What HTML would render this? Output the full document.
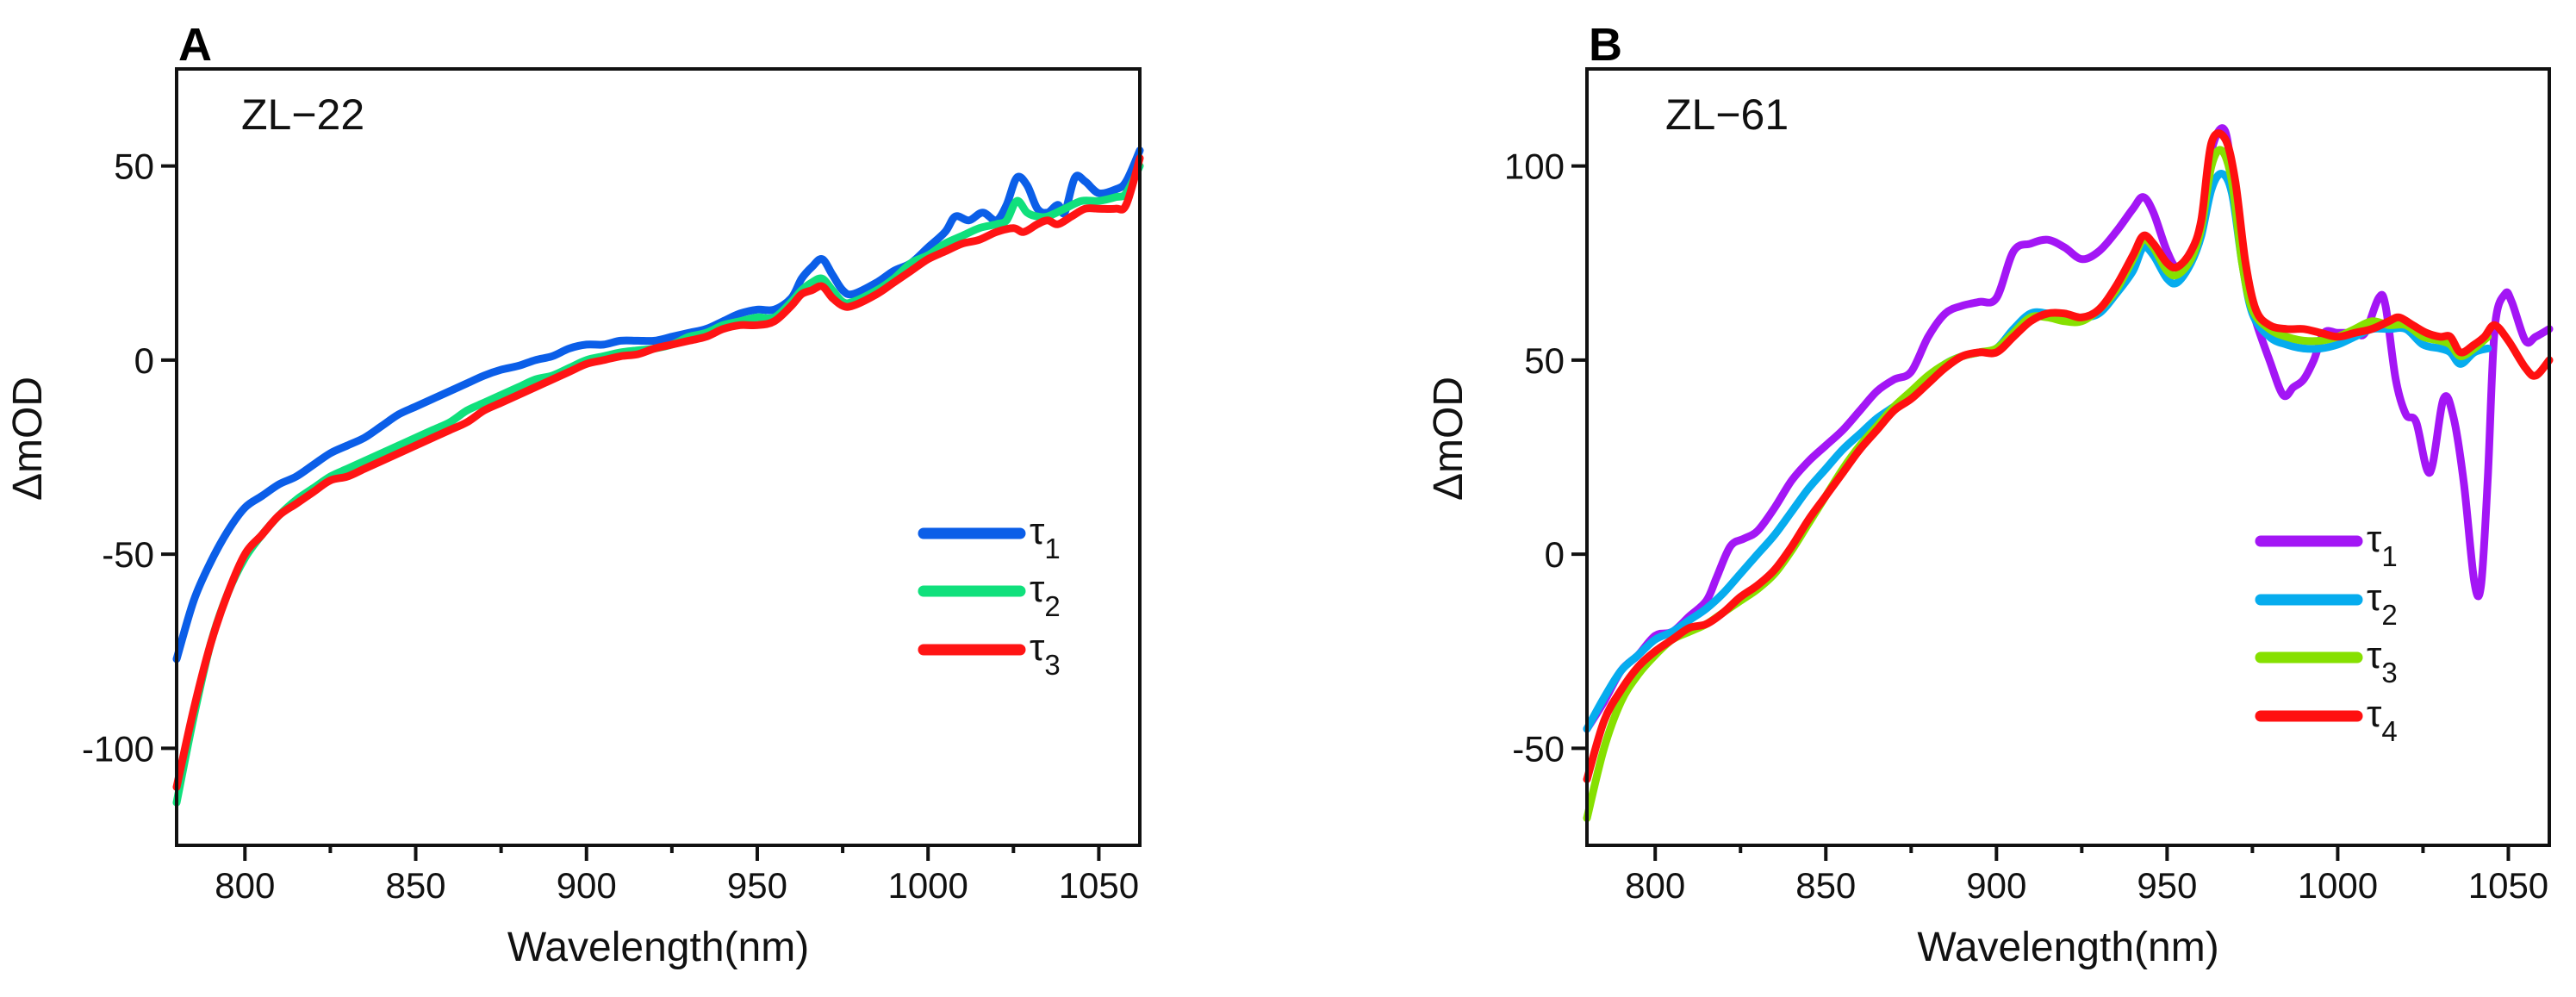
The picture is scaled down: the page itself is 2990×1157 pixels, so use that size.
<!DOCTYPE html>
<html><head><meta charset="utf-8"><style>
html,body{margin:0;padding:0;background:#fff;}
svg{display:block;font-family:"Liberation Sans",Arial,sans-serif;}
</style></head><body>
<svg id="fig" width="2990" height="1157" viewBox="0 0 2990 1157"></svg>
<script>
// ---- Panel A data ----
const wlA1=[780,785,790,795,800,805,810,815,820,825,830,835,840,845,850,855,860,865,870,875,880,885,890,895,900,905,910,915,920,925,930,935,940,945,950,955,960,963,966,969,972,975,978,985,990,995,1000,1005,1008,1012,1016,1020,1023,1026,1029,1032,1035,1038,1040,1043,1046,1050,1055,1058,1062];
const a1=[-77,-62,-52,-44,-38,-35,-32,-30,-27,-24,-22,-20,-17,-14,-12,-10,-8,-6,-4,-2.5,-1.5,0,1,3,4,4,5,5,5,6,7,8,10,12,13,13,16,21,24,26,22,18,17,20,23,25,29,33,37,36,38,36,40,47,45,39,38,40,38,47,46,43,44,46,54];
const wlA2=[780,785,790,795,800,805,810,815,820,825,830,835,840,845,850,855,860,865,870,875,880,885,890,895,900,905,910,915,920,925,930,935,940,945,950,955,960,963,966,969,972,975,978,985,990,995,1000,1005,1010,1015,1020,1023,1026,1029,1032,1035,1040,1045,1050,1055,1058,1062];
const a2=[-114,-92,-73,-60,-51,-45,-40,-36,-33,-30,-28,-26,-24,-22,-20,-18,-16,-13,-11,-9,-7,-5,-4,-2,0,1,2,2.5,3,4,6,7,9,10,11,11,15,18,20,21,18,15,15,18,21,25,27,30,32,34,35,36,41,38,37,37,39,41,41,42,43,50];
const wlA3=[780,785,790,795,800,805,810,815,820,825,830,835,840,845,850,855,860,865,870,875,880,885,890,895,900,905,910,915,920,925,930,935,940,945,950,955,960,963,966,969,972,975,978,985,990,995,1000,1005,1010,1015,1020,1025,1028,1032,1035,1038,1042,1046,1050,1055,1058,1062];
const a3=[-110,-90,-73,-60,-50,-45,-40,-37,-34,-31,-30,-28,-26,-24,-22,-20,-18,-16,-13,-11,-9,-7,-5,-3,-1,0,1,1.5,3,4,5,6,8,9,9,10,14,17,18,19,16,14,14,17,20,23,26,28,30,31,33,34,33,35,36,35,37,39,39,39,40,52];
// ---- Panel B data ----
const wlB1=[780,785,790,795,800,805,810,815,818,822,826,830,835,840,845,850,855,860,865,870,875,880,885,890,895,900,905,910,915,920,925,930,935,940,943,946,950,953,957,960,963,967,970,973,976,980,984,987,990,993,996,1000,1005,1008,1012,1014,1017,1020,1023,1027,1031,1034,1037,1040,1042,1044,1046,1049,1051,1055,1058,1062];
const b1=[-45,-38,-30,-26,-21,-20,-16,-12,-6,2,4,6,12,19,24,28,32,37,42,45,47,56,62,64,65,66,78,80,81,79,76,78,83,89,92,88,78,74,78,85,104,109,90,70,60,50,41,43,45,50,57,57,57,57,66,64,45,36,34,21,40,35,18,-7,-8,20,58,67,65,55,56,58];
const wlB2=[780,785,790,795,800,805,810,815,820,825,830,835,840,845,850,855,860,865,870,875,880,885,890,895,900,905,910,915,920,925,930,935,940,943,946,950,953,957,960,963,966,969,972,975,980,985,990,995,1000,1005,1010,1015,1020,1025,1030,1033,1036,1040,1044];
const b2=[-45,-37,-30,-26,-22,-20,-17,-14,-10,-5,0,5,11,17,22,27,31,35,38,41,45,49,51,52,53,58,62,62,61,61,62,67,73,79,77,71,70,75,82,94,98,93,75,62,56,54,53,53,54,56,58,58,58,54,53,52,49,52,53];
const wlB3=[780,785,790,795,800,805,810,815,820,825,830,835,840,845,850,855,860,865,870,875,880,885,890,895,900,905,910,915,920,925,930,935,940,943,946,950,953,957,960,963,966,969,972,975,980,985,990,995,1000,1005,1010,1015,1020,1025,1030,1033,1036,1040,1044];
const b3=[-68,-50,-38,-31,-26,-22,-20,-18,-15,-12,-9,-5,1,8,15,22,28,33,38,42,46,49,51,52,53,57,61,61,60,60,63,68,76,81,79,73,72,76,84,100,104,96,75,63,58,56,55,55,56,58,60,59,59,56,55,54,51,53,56];
const wlB4=[780,785,790,795,800,805,810,815,820,825,830,835,840,845,850,855,860,865,870,875,880,885,890,895,900,905,910,915,920,925,930,935,940,943,946,950,953,957,960,963,967,970,973,976,980,985,990,995,1000,1005,1010,1015,1018,1022,1026,1030,1033,1036,1040,1043,1046,1050,1055,1058,1062];
const b4=[-58,-43,-35,-29,-25,-22,-19,-18,-15,-11,-8,-4,2,9,15,21,27,32,37,40,44,48,51,52,52,56,60,62,62,61,63,69,77,82,80,75,74,78,86,106,107,96,75,63,59,58,58,57,56,57,58,60,61,59,57,56,56,52,54,56,59,55,48,46,50];
const xTicks=[800,850,900,950,1000,1050];
const yTicksA=[-100,-50,0,50];
const yTicksB=[-50,0,50,100];

const NS='http://www.w3.org/2000/svg';
const svg=document.getElementById('fig');
function el(tag,attrs,parent,text){const e=document.createElementNS(NS,tag);for(const k in attrs)e.setAttribute(k,attrs[k]);if(text!==undefined)e.textContent=text;(parent||svg).appendChild(e);return e;}
function smoothPath(pts){
  let d='M'+pts[0][0].toFixed(1)+','+pts[0][1].toFixed(1);
  for(let i=0;i<pts.length-1;i++){
    const p0=pts[Math.max(0,i-1)],p1=pts[i],p2=pts[i+1],p3=pts[Math.min(pts.length-1,i+2)];
    const c1x=p1[0]+(p2[0]-p0[0])/6,c1y=p1[1]+(p2[1]-p0[1])/6;
    const c2x=p2[0]-(p3[0]-p1[0])/6,c2y=p2[1]-(p3[1]-p1[1])/6;
    d+=' C'+c1x.toFixed(1)+','+c1y.toFixed(1)+' '+c2x.toFixed(1)+','+c2y.toFixed(1)+' '+p2[0].toFixed(1)+','+p2[1].toFixed(1);
  }
  return d;
}

function panel(cfg){
  const g=el('g',{});
  
  
  const L=cfg.left,R=cfg.right,T=80,B=981;
  const xs=v=>L+(v-780)/(1062-780)*(R-L);
  const ys=v=>B-(v-cfg.ymin)/(cfg.ymax-cfg.ymin)*(B-T);
  cfg.series.forEach(s=>{
    const pts=s.x.map((w,i)=>[xs(w),ys(s.y[i])]);
    const p=el('path',{d:smoothPath(pts),fill:'none',stroke:s.color,'stroke-width':9,'stroke-linejoin':'round','stroke-linecap':'round'},g);
    
    
  });
  el('rect',{x:L-60,y:B+2,width:R-L+80,height:60,fill:'#fff'},g);
  const f=el('rect',{x:L,y:T,width:R-L,height:B-T,fill:'none',stroke:'#111','stroke-width':4},g);
  
  
  for(let v=800;v<=1050;v+=25){
    const major=v%50===0;
    el('line',{x1:xs(v),x2:xs(v),y1:B,y2:B+(major?18:9),stroke:'#111','stroke-width':4},g);
  }
  xTicks.forEach(v=>{
    const t=el('text',{x:xs(v),y:B+61,'font-size':42,'text-anchor':'middle',fill:'#111'},g,String(v));
    
    
  });
  cfg.yt.forEach(v=>{
    el('line',{x1:L-18,x2:L,y1:ys(v),y2:ys(v),stroke:'#111','stroke-width':4},g);
    const t=el('text',{x:L-26,y:ys(v)+15,'font-size':42,'text-anchor':'end',fill:'#111'},g,String(v));
    
    
  });
  const xt=el('text',{x:(L+R)/2,y:1115,'font-size':48,'text-anchor':'middle',fill:'#111'},g,'Wavelength(nm)');
  
  
  const yt=el('text',{x:0,y:0,'font-size':48,'text-anchor':'middle',fill:'#111',transform:'translate('+(cfg.ylabX)+',509) rotate(-90)'},g,'ΔmOD');
  
  
  const pl=el('text',{x:L+2,y:70,'font-size':54,'font-weight':'bold',fill:'#000'},g,cfg.letter);
  
  
  const st=el('text',{x:cfg.tagX,y:150,'font-size':50,fill:'#111'},g,cfg.tag);
  
  
  cfg.series.forEach((s,i)=>{
    const y=cfg.legY[i];
    const lg=el('g',{},g);
    
    
    el('line',{x1:cfg.legX,x2:cfg.legX+112,y1:y,y2:y,stroke:s.color,'stroke-width':13,'stroke-linecap':'round'},lg);
    const t=el('text',{x:cfg.legX+123,y:y+12,'font-size':44,fill:'#111'},lg);
    el('tspan',{},t,'τ');
    el('tspan',{'font-size':33,dy:17},t,String(i+1));
  });
}
panel({name:'panel-a',left:205,right:1323,ymin:-125,ymax:75,yt:yTicksA,ylabX:48,letter:'A',tag:'ZL−22',tagX:280,
  legX:1072,legY:[619,686,754],
  series:[{id:'tau1',x:wlA1,y:a1,color:'#0b5ee8'},{id:'tau2',x:wlA2,y:a2,color:'#10e07c'},{id:'tau3',x:wlA3,y:a3,color:'#ff1414'}]});
panel({name:'panel-b',left:1842,right:2959,ymin:-75,ymax:125,yt:yTicksB,ylabX:1697,letter:'B',tag:'ZL−61',tagX:1933,
  legX:2624,legY:[628,696,763,831],
  series:[{id:'tau1',x:wlB1,y:b1,color:'#a316f5'},{id:'tau2',x:wlB2,y:b2,color:'#06acee'},{id:'tau3',x:wlB3,y:b3,color:'#86e000'},{id:'tau4',x:wlB4,y:b4,color:'#ff1010'}]});
</script>
</body></html>
